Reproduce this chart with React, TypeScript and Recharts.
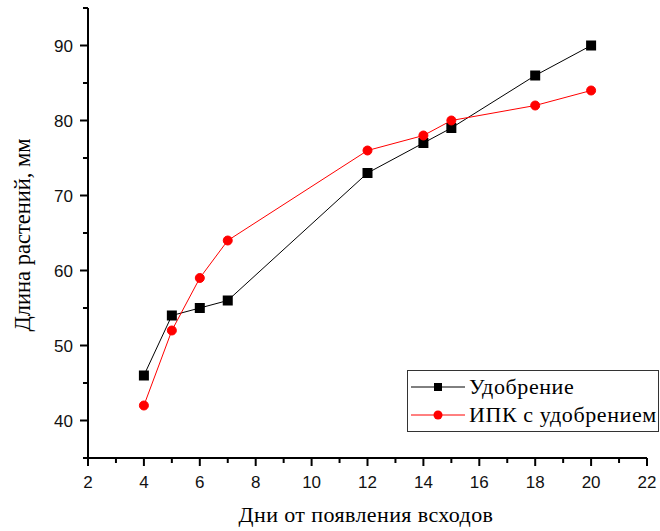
import { LineChart, Line, XAxis, YAxis, Legend } from 'recharts';

const days = [4, 5, 6, 7, 12, 14, 15, 18, 20];
const fertilizer = [46, 54, 55, 56, 73, 77, 79, 86, 90];
const ipkFertilizer = [42, 52, 59, 64, 76, 78, 80, 82, 84];

const xTicks = [2, 3, 4, 5, 6, 7, 8, 9, 10, 11, 12, 13, 14, 15, 16, 17, 18, 19, 20, 21, 22];
const xLabels = [2, 4, 6, 8, 10, 12, 14, 16, 18, 20, 22];
const yTicks = [35, 40, 45, 50, 55, 60, 65, 70, 75, 80, 85, 90, 95];
const yLabels = [40, 50, 60, 70, 80, 90];

const data = days.map((d, i) => ({ day: d, fert: fertilizer[i], ipk: ipkFertilizer[i] }));

const TICK_SIZE = 7;
const TICK_MARGIN = 8;
const SANS = '"Liberation Sans", Arial, sans-serif';
const SERIF = '"Liberation Serif", "Times New Roman", serif';

function XTick(props: any) {
  const { x, y, payload } = props;
  const axisY = y - TICK_SIZE - TICK_MARGIN;
  const major = xLabels.includes(payload.value);
  return (
    <g>
      <line x1={x} x2={x} y1={axisY} y2={axisY + (major ? 8 : 5)} stroke="#000" strokeWidth={2} />
      {major && (
        <text x={x} y={axisY + 30} textAnchor="middle" fontFamily={SANS} fontSize={17} fill="#111">
          {payload.value}
        </text>
      )}
    </g>
  );
}

function YTick(props: any) {
  const { x, y, payload } = props;
  const axisX = x + TICK_SIZE + TICK_MARGIN;
  const major = yLabels.includes(payload.value);
  return (
    <g>
      <line x1={axisX} x2={axisX - (major ? 8 : 5)} y1={y} y2={y} stroke="#000" strokeWidth={2} />
      {major && (
        <text x={axisX - 15} y={y + 6} textAnchor="end" fontFamily={SANS} fontSize={17} fill="#111">
          {payload.value}
        </text>
      )}
    </g>
  );
}

function SquareDot(props: any) {
  const { cx, cy, index } = props;
  return <rect key={`sq-${index}`} x={cx - 5} y={cy - 5} width={10} height={10} fill="#000" />;
}

function LegendBox() {
  const row = (label: string, color: string, square: boolean) => (
    <div style={{ display: 'flex', alignItems: 'center', height: 28 }}>
      <svg width={56} height={12} style={{ marginLeft: 1, marginRight: 4 }}>
        <line x1={2} x2={56} y1={6} y2={6} stroke={color} strokeWidth={1} />
        {square ? (
          <rect x={25} y={2} width={8} height={8} fill={color} />
        ) : (
          <circle cx={29} cy={6} r={4.5} fill={color} />
        )}
      </svg>
      <span style={{ fontFamily: SERIF, fontSize: 22, letterSpacing: 0.6, color: '#000', whiteSpace: 'nowrap' }}>{label}</span>
    </div>
  );
  return (
    <div style={{ border: '1px solid #333', width: 252, height: 62, padding: '2px 0 0 0', boxSizing: 'border-box', background: '#fff', overflow: 'hidden' }}>
      {row('Удобрение', '#000', true)}
      {row('ИПК с удобрением', '#ff0000', false)}
    </div>
  );
}

export default function App() {
  return (
    <div style={{ position: 'absolute', left: 0, top: 0, width: 660, height: 531, background: '#fff' }}>
      <LineChart width={660} height={531} data={data} margin={{ top: 8, right: 13, left: 0, bottom: 0 }}>
        <XAxis
          dataKey="day"
          type="number"
          domain={[2, 22]}
          ticks={xTicks}
          interval={0}
          height={73}
          tickSize={TICK_SIZE}
          tickMargin={TICK_MARGIN}
          tickLine={false}
          tick={<XTick />}
          axisLine={{ stroke: '#000', strokeWidth: 2 }}
          label={{
            content: () => (
              <text x={366} y={522} textAnchor="middle" fontFamily={SERIF} fontSize={22} letterSpacing={0.4} fill="#000">
                Дни от появления всходов
              </text>
            ),
          }}
        />
        <YAxis
          type="number"
          domain={[35, 95]}
          ticks={yTicks}
          interval={0}
          width={88}
          tickSize={TICK_SIZE}
          tickMargin={TICK_MARGIN}
          tickLine={false}
          tick={<YTick />}
          axisLine={{ stroke: '#000', strokeWidth: 2 }}
          label={{
            content: () => (
              <text x={30} y={235} transform="rotate(-90, 30, 235)" textAnchor="middle" fontFamily={SERIF} fontSize={22.5} fill="#000">
                Длина растений, мм
              </text>
            ),
          }}
        />
        <Legend
          layout="vertical"
          align="center"
          verticalAlign="middle"
          content={() => <LegendBox />}
          wrapperStyle={{ left: 407, top: 370, width: 252, height: 62 }}
        />
        <Line
          dataKey="fert"
          name="Удобрение"
          stroke="#000"
          strokeWidth={1}
          dot={<SquareDot />}
          activeDot={false}
          isAnimationActive={false}
        />
        <Line
          dataKey="ipk"
          name="ИПК с удобрением"
          stroke="#ff0000"
          strokeWidth={1}
          dot={{ r: 4.5, fill: '#ff0000', stroke: '#ff0000', strokeWidth: 1 }}
          activeDot={false}
          isAnimationActive={false}
        />
      </LineChart>
    </div>
  );
}
